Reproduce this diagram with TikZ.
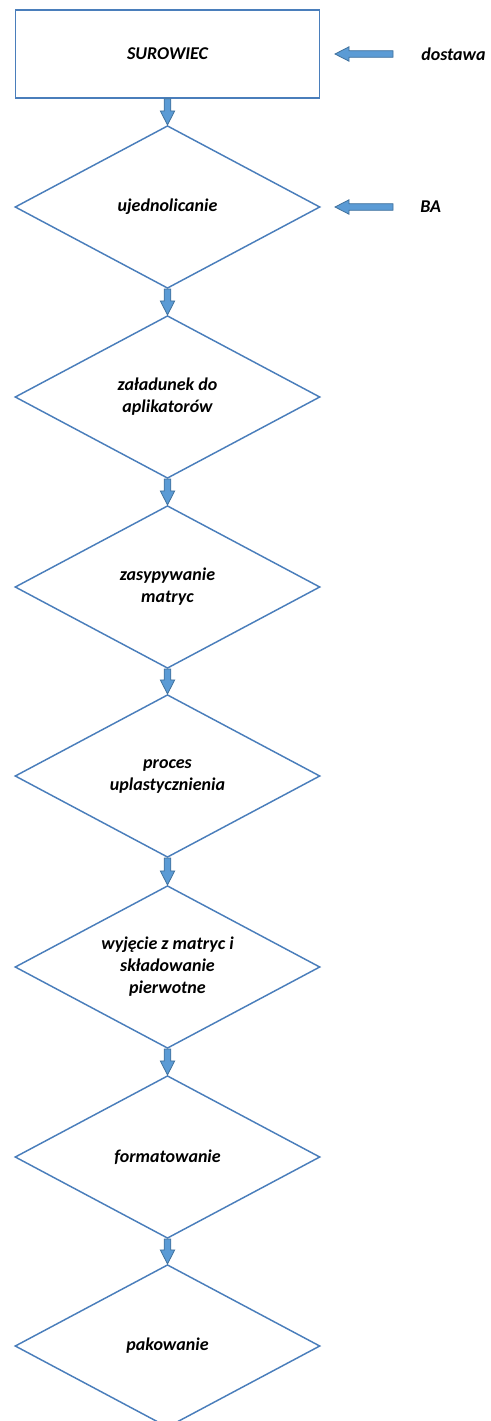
\documentclass[tikz,border=0pt]{standalone}
\usepackage{fontspec}
\setmainfont{Carlito}
\usetikzlibrary{shapes.geometric,calc}

\definecolor{lineblue}{HTML}{4A7EBB}
\definecolor{arrowfill}{HTML}{5B9BD5}
\definecolor{arrowline}{HTML}{41719C}

\newcommand{\labelfont}{\fontsize{13.5}{16.5}\selectfont\bfseries\itshape}

% block arrow from #1 (tail) to #2 (tip)
\newcommand{\blockarrow}[2]{%
	\coordinate (headbase) at ($(#2)!10.5pt!(#1)$);
	\filldraw[fill=arrowfill, draw=arrowline, line width=0.6pt, line join=miter]
		($(#1)!2.5pt!90:(#2)$) -- ($(headbase)!2.5pt!90:(#2)$) -- ($(headbase)!5.4pt!90:(#2)$)
		-- (#2) -- ($(headbase)!5.4pt!-90:(#2)$) -- ($(headbase)!2.5pt!-90:(#2)$)
		-- ($(#1)!2.5pt!-90:(#2)$) -- cycle;}

\begin{document}
\begin{tikzpicture}[x=0.75pt, y=-0.75pt]
			\tikzstyle{source} = [rectangle, draw=lineblue, line width=1.1pt, minimum width=228pt, minimum height=66pt, inner sep=0pt, font=\labelfont]
			\tikzstyle{stage}  = [diamond, aspect=2, draw=lineblue, line width=1.1pt, minimum width=228.75pt, minimum height=122pt, inner sep=0pt, align=center, font=\labelfont]
			\tikzstyle{input}  = [anchor=west, inner sep=0pt, font=\labelfont]

			\useasboundingbox (0,0) rectangle (491,1421);

			\node[source] (surowiec) at (167.5,54) {SUROWIEC};

			\foreach \name/\y/\lbl in {ujedn/207/ujednolicanie, zaladunek/397/{załadunek do\\aplikatorów}, zasyp/587/{zasypywanie\\matryc}, proces/776/{proces\\uplastycznienia}, wyjecie/967/{wyjęcie z matryc i\\składowanie\\pierwotne}, format/1157/formatowanie, pakow/1346/pakowanie}
				\node[stage] (\name) at (167.5,\y) {\lbl};

			\foreach \src/\dst in {surowiec/ujedn, ujedn/zaladunek, zaladunek/zasyp, zasyp/proces, proces/wyjecie, wyjecie/format, format/pakow}
				\blockarrow{\src.south}{\dst.north};

			\node[input] (dostawa) at (421,54) {dostawa};
			\node[input] (ba) at (420,207) {BA};

			\coordinate (dostawa-tail) at (393,54);
			\coordinate (dostawa-tip) at (335,54);
			\coordinate (ba-tail) at (393,207);
			\coordinate (ba-tip) at (335,207);
			\blockarrow{dostawa-tail}{dostawa-tip};
			\blockarrow{ba-tail}{ba-tip};
		\end{tikzpicture}
\end{document}
